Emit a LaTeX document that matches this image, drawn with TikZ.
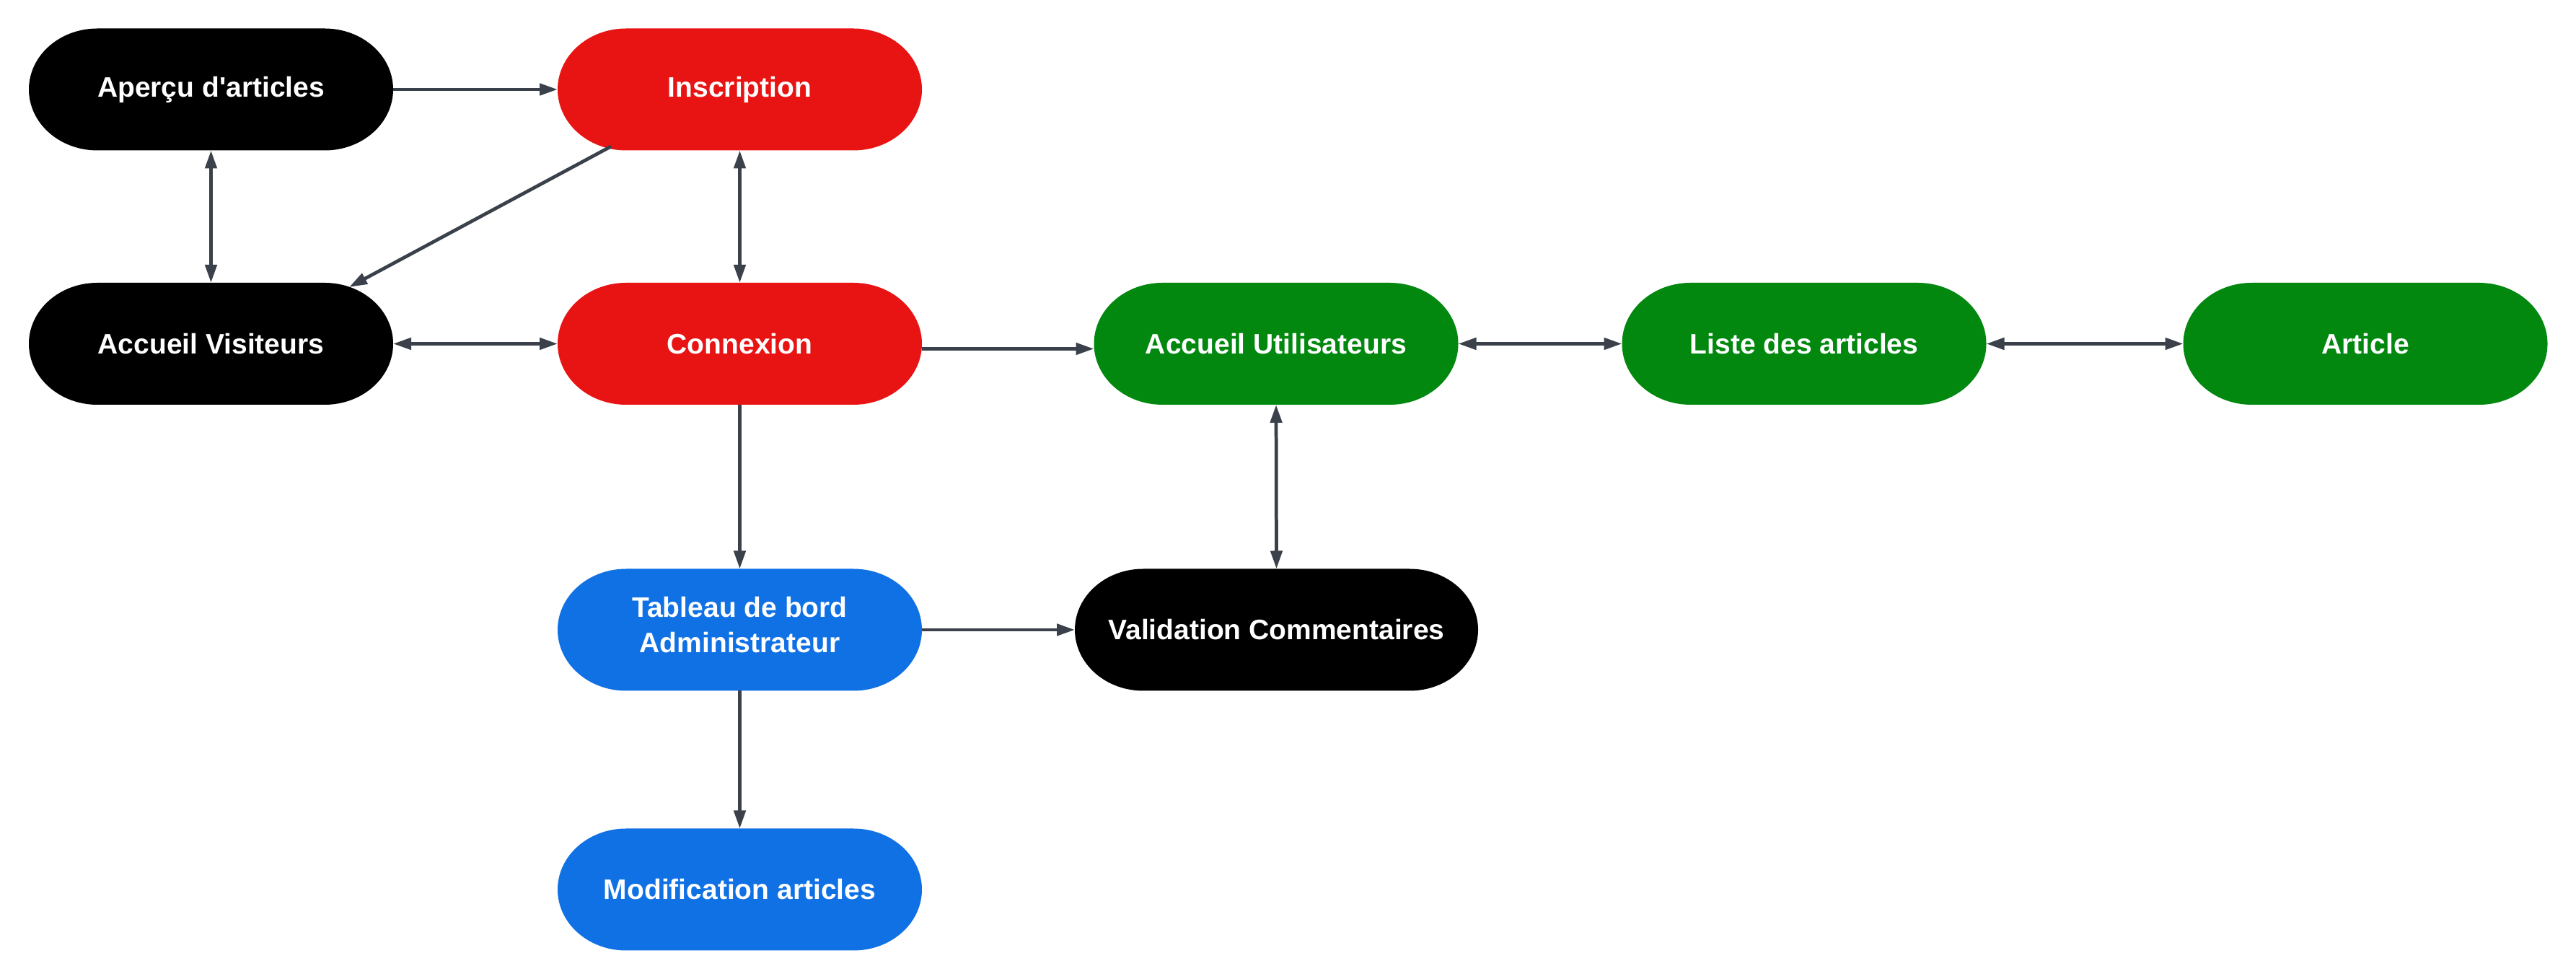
\documentclass[tikz,border=0pt]{standalone}
\usepackage{fontspec}
\setmainfont{Liberation Sans}
\usetikzlibrary{arrows.meta,calc}
\pgfdeclarelayer{background}
\pgfsetlayers{background,main}
\definecolor{cblack}{HTML}{000000}
\definecolor{cred}{HTML}{E81414}
\definecolor{cgreen}{HTML}{02880F}
\definecolor{cblue}{HTML}{1071E5}
\definecolor{cline}{HTML}{3A414A}
\tikzset{
  pill/.style={shape=rectangle, inner sep=0pt, outer sep=0pt,
    minimum width=5.05cm, minimum height=1.69cm, text=white, align=center,
    font=\fontsize{11.1}{13.9}\selectfont\bfseries},
  conn/.style={draw=cline, line width=1.35pt,
    arrows={-Triangle[length=0.25cm,width=0.16cm]}},
  dconn/.style={conn, arrows={Triangle[length=0.25cm,width=0.16cm]-Triangle[length=0.25cm,width=0.16cm]}}
}
\newcommand\pillfill[2]{%
  \begin{pgfonlayer}{background}
  \fill[#2] ([xshift=0.95cm]#1.north west) -- ([xshift=-0.95cm]#1.north east)
    arc[start angle=90,end angle=-90,x radius=0.95cm,y radius=0.845cm]
    -- ([xshift=0.95cm]#1.south west)
    arc[start angle=270,end angle=90,x radius=0.95cm,y radius=0.845cm] -- cycle;
  \end{pgfonlayer}}
\begin{document}
\begin{tikzpicture}
\begin{pgfonlayer}{background}
\fill[white] (0,0) rectangle (35.71,13.57);
\end{pgfonlayer}
\useasboundingbox (0,0) rectangle (35.71,13.57);
\node[pill] (apercu) at (2.925,12.33) {Aperçu d\textquotesingle articles};
\node[pill] (insc) at (10.255,12.33) {Inscription};
\node[pill] (accv) at (2.925,8.805) {Accueil Visiteurs};
\node[pill] (cnx) at (10.255,8.805) {Connexion};
\node[pill] (accu) at (17.69,8.805) {Accueil Utilisateurs};
\node[pill] (liste) at (25.01,8.805) {Liste des articles};
\node[pill] (article) at (32.79,8.805) {Article};
\node[pill] (tab) at (10.255,4.84) {Tableau de bord\\Administrateur\rule[-0.14cm]{0pt}{0pt}};
\node[pill, minimum width=5.59cm] (valid) at (17.695,4.84) {Validation Commentaires};
\node[pill] (modif) at (10.255,1.24) {Modification articles};
\pillfill{apercu}{cblack}
\pillfill{insc}{cred}
\pillfill{accv}{cblack}
\pillfill{cnx}{cred}
\pillfill{accu}{cgreen}
\pillfill{liste}{cgreen}
\pillfill{article}{cgreen}
\pillfill{tab}{cblue}
\pillfill{valid}{cblack}
\pillfill{modif}{cblue}
\draw[conn] (apercu.east) -- (insc.west);
\draw[dconn] (apercu.south) -- (accv.north);
\draw[conn] ($(insc.center)+(-1.785,-0.79)$) -- ($(accv.center)+(1.915,0.785)$);
\draw[dconn] (insc.south) -- (cnx.north);
\draw[dconn] (accv.east) -- (cnx.west);
\draw[conn] ([yshift=-0.07cm]cnx.east) -- ([yshift=-0.07cm]accu.west);
\draw[dconn] (accu.east) -- (liste.west);
\draw[dconn] (liste.east) -- (article.west);
\draw[dconn] (accu.south) -- (valid.north);
\draw[conn] (cnx.south) -- (tab.north);
\draw[conn] (tab.east) -- (valid.west);
\draw[conn] (tab.south) -- (modif.north);
\end{tikzpicture}
\end{document}
